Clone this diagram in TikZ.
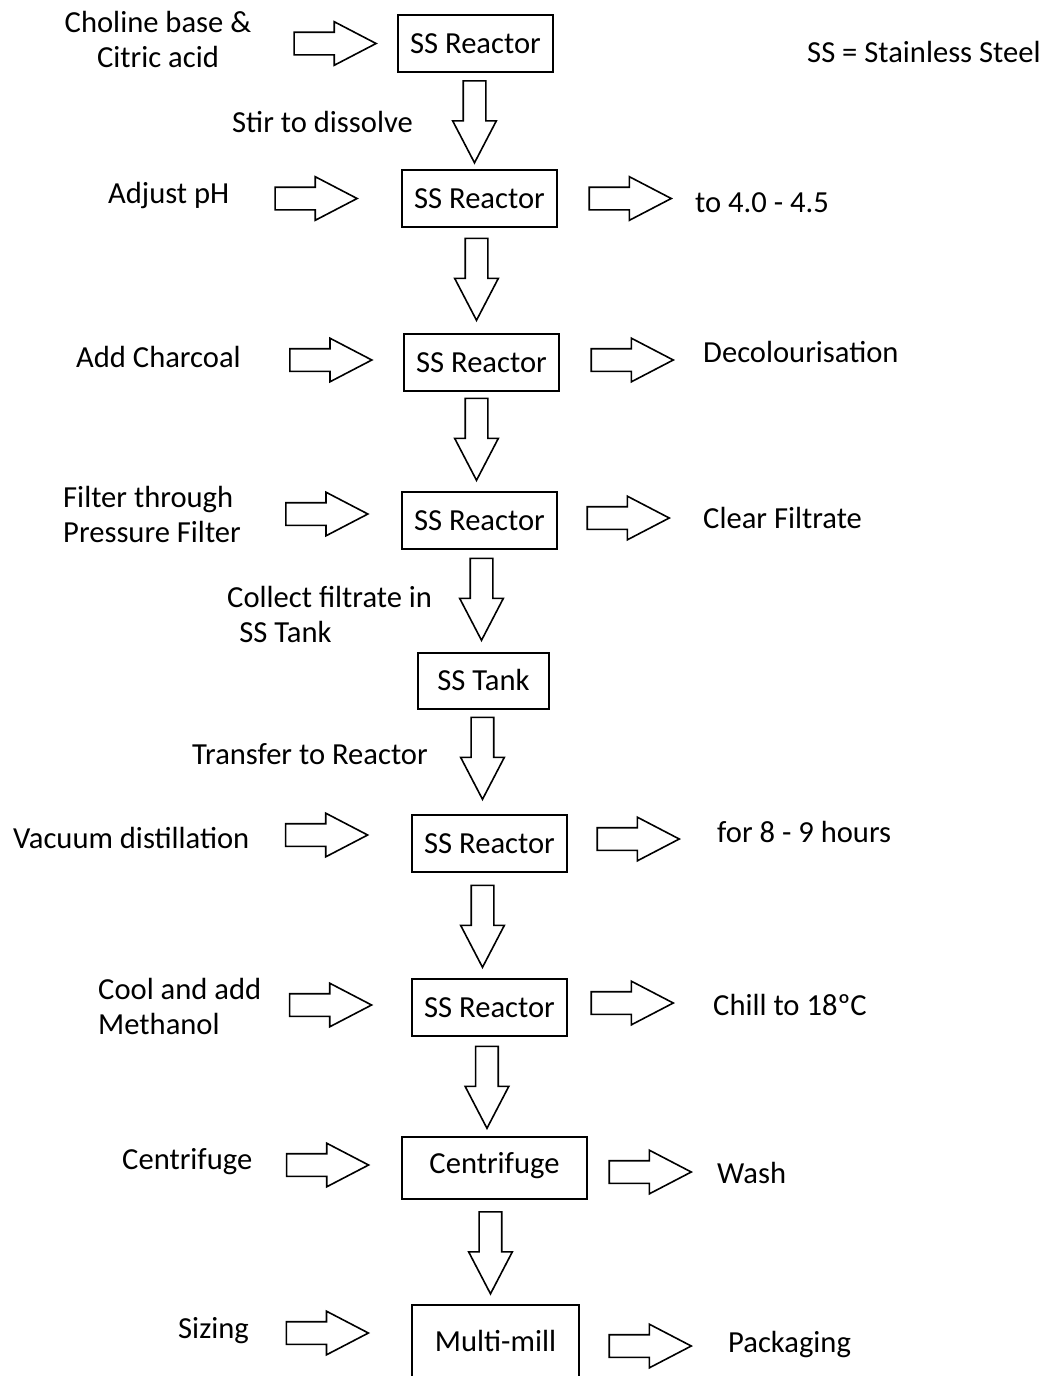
\documentclass[tikz,border=0pt]{standalone}
\usepackage{fontspec}
\setmainfont{Carlito}
\usetikzlibrary{shapes.arrows}

\begin{document}
\begin{tikzpicture}[x=1pt,y=-1pt,
        every node/.style={font=\fontsize{30.6}{35}\selectfont, inner sep=0pt},
        unit/.style={draw, line width=1.8pt, minimum width=155pt, minimum height=57pt,
            text height=19.5pt, text depth=0pt},
        txt/.style={anchor=base west},
        blockarr/.style={single arrow, draw, line width=1.6pt, minimum height=82pt,
            inner xsep=0pt, inner ysep=10.5pt, single arrow head extend=10.5pt,
            single arrow tip angle=55, anchor=tail, xshift=-41pt},
        darr/.style={rotate=-90, blockarr}]
    \clip (0,0) rectangle (1046,1376);
    % process units
    \node[unit] (reac1) at (475.5,43.5) {SS Reactor};
    \node[unit] (reac2) at (479.5,198.5) {SS Reactor};
    \node[unit] (reac3) at (481.5,362.5) {SS Reactor};
    \node[unit] (reac4) at (479.5,520.5) {SS Reactor};
    \node[unit, minimum width=131pt, minimum height=56pt] (tank) at (483.5,681) {SS Tank};
    \node[unit] (reac6) at (489.5,843.5) {SS Reactor};
    \node[unit] (reac7) at (489.5,1007.5) {SS Reactor};
    \node[unit, minimum width=185pt, minimum height=62pt, text depth=9.5pt] (centr) at (494.5,1168) {Centrifuge};
    \node[unit, minimum width=167pt, minimum height=74pt] (mill) at (495.5,1342) {Multi-mill};

    % inputs (multi-line ones sit on their last line)
    \node[anchor=base, align=center] (in1) at (158,67) {Choline base \&\\Citric acid};
    \node[txt] (in2) at (108,203) {Adjust pH};
    \node[txt] (in3) at (76,367) {Add Charcoal};
    \node[txt, align=left] (in4) at (63,542) {Filter through\\Pressure Filter};
    \node[txt] (in6) at (13,848) {Vacuum distillation};
    \node[txt, align=left] (in7) at (98,1034) {Cool and add\\Methanol};
    \node[txt] (in8) at (122,1169) {Centrifuge};
    \node[txt] (in9) at (178,1338) {Sizing};

    % outputs
    \node[txt] (out2) at (695,212) {to 4.0 - 4.5};
    \node[txt] (out3) at (703,362) {Decolourisation};
    \node[txt] (out4) at (703,528) {Clear Filtrate};
    \node[txt] (out6) at (717,842) {for 8 - 9 hours};
    \node[txt] (out7) at (713,1015) {Chill to 18ºC};
    \node[txt] (out8) at (717,1183) {Wash};
    \node[txt] (out9) at (728,1352) {Packaging};

    \node[txt] (note) at (807,62) {SS = Stainless Steel};
    \node[txt] (lbl1) at (232,132) {Stir to dissolve};
    \node[txt, align=left] (lbl4) at (227,642) {Collect filtrate in\\\hspace*{0.4em}SS Tank};
    \node[txt] (lbl5) at (192,764) {Transfer to Reactor};

    % arrows in
    \path (in1.east |- reac1) -- node[blockarr, xshift=10pt]{} (reac1);
    \path (in2.east |- reac2) -- node[blockarr]{} (reac2);
    \path (in3.east |- reac3) -- node[blockarr, xshift=8pt, yshift=2.5pt]{} (reac3);
    \path (in4.east |- reac4) -- node[blockarr, xshift=5pt, yshift=6.5pt]{} (reac4);
    \path (in6.east |- reac6) -- node[blockarr, xshift=-4.5pt, yshift=8.5pt]{} (reac6);
    \path (in7.east |- reac7) -- node[blockarr, xshift=-6.5pt, yshift=2.5pt]{} (reac7);
    \path (in8.east |- centr) -- node[blockarr, yshift=3pt]{} (centr);
    \path (in9.east |- mill) -- node[blockarr, xshift=-3.5pt, yshift=9pt]{} (mill);

    % arrows out
    \path (reac2) -- node[blockarr, xshift=3pt]{} (out2.west |- reac2);
    \path (reac3) -- node[blockarr, yshift=2.5pt]{} (out3.west |- reac3);
    \path (reac4) -- node[blockarr, xshift=-3pt, yshift=2.5pt]{} (out4.west |- reac4);
    \path (reac6) -- node[blockarr, xshift=-5pt, yshift=4.5pt]{} (out6.west |- reac6);
    \path (reac7) -- node[blockarr, xshift=-9pt, yshift=4.5pt]{} (out7.west |- reac7);
    \path (centr) -- node[blockarr, xshift=-3pt, yshift=-4pt]{} (out8.west |- centr);
    \path (mill) -- node[blockarr, xshift=-4.5pt, yshift=-4pt]{} (out9.west |- mill);

    % flow down
    \path (reac1) -- node[xshift=-3pt, darr]{} (reac2);
    \path (reac2) -- node[xshift=-4pt, yshift=2pt, darr]{} (reac3);
    \path (reac3) -- node[xshift=-4pt, yshift=3pt, darr]{} (reac4);
    \path (reac4) -- node[yshift=2.5pt, darr]{} (tank);
    \path (tank) -- node[xshift=-4pt, yshift=4.5pt, darr]{} (reac6);
    \path (reac6) -- node[xshift=-7pt, darr]{} (reac7);
    \path (reac7) -- node[xshift=-5pt, darr]{} (centr);
    \path (centr) -- node[xshift=-4.5pt, darr]{} (mill);
\end{tikzpicture}
\end{document}
